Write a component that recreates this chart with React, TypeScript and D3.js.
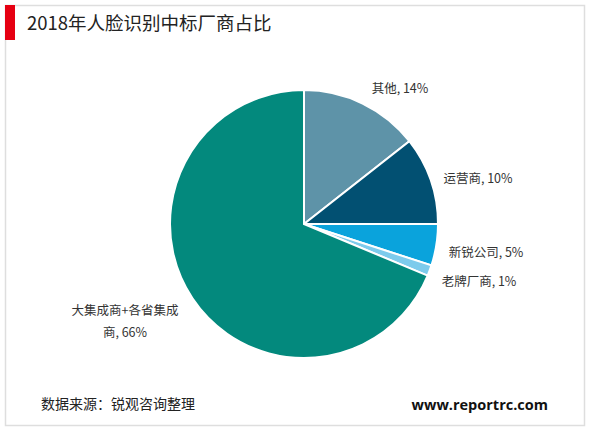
import React from "react";
import * as d3 from "d3";

const categories = ["其他", "运营商", "新锐公司", "老牌厂商", "大集成商+各省集成商"];
const values = [14.4, 10.6, 5.0, 1.3, 68.7];
const percentLabels = ["14%", "10%", "5%", "1%", "66%"];
const colors = ["#5e93a8", "#025072", "#0aa3dc", "#7dcbec", "#03897d"];
const labelLines = [
  ["其他, 14%"],
  ["运营商, 10%"],
  ["新锐公司, 5%"],
  ["老牌厂商, 1%"],
  ["大集成商+各省集成", "商, 66%"],
];
const labelPos: [number, number, string][] = [
  [400, 87, "middle"],
  [478, 177, "middle"],
  [486, 251, "middle"],
  [479, 280, "middle"],
  [125, 309, "middle"],
];

export default function App() {
  const cx = 304;
  const cy = 224;
  const r = 134;
  const pie = d3.pie<number>().sort(null).value((d) => d);
  const arcs = pie(values);
  const arc = d3.arc<d3.PieArcDatum<number>>().innerRadius(0).outerRadius(r);
  const font = "'Microsoft YaHei', 'Noto Sans CJK SC', sans-serif";
  return (
    <svg
      width={600}
      height={430}
      style={{ position: "absolute", left: 0, top: 0, background: "#fff" }}
    >
      <rect x={5.5} y={5.5} width={579} height={420} fill="#fff" stroke="#dedede" strokeWidth={1.5} />
      <rect x={5} y={5} width={10} height={35} fill="#e60012" />
      <text x={27} y={30} fontSize={18.5} fontFamily={font} fill="#222">
        2018年人脸识别中标厂商占比
      </text>
      <g transform={`translate(${cx},${cy})`}>
        {arcs.map((a, i) => (
          <path key={categories[i]} d={arc(a) || ""} fill={colors[i]} stroke="#fff" strokeWidth={2} />
        ))}
      </g>
      {labelLines.map((lines, i) => (
        <text
          key={i}
          x={labelPos[i][0]}
          y={labelPos[i][1]}
          textAnchor={labelPos[i][2] as any}
          fontSize={12.5}
          fontFamily={font}
          fill="#333"
          dominantBaseline="central"
        >
          {lines.map((l, j) => (
            <tspan key={j} x={labelPos[i][0]} dy={j === 0 ? 0 : 22}>
              {l}
            </tspan>
          ))}
        </text>
      ))}
      <text x={41} y={403} fontSize={14} fontFamily={font} fill="#222" dominantBaseline="central">
        数据来源：锐观咨询整理
      </text>
      <text
        x={548}
        y={404}
        textAnchor="end"
        fontSize={14.5}
        fontWeight="bold"
        fontFamily="'Open Sans', 'DejaVu Sans', sans-serif"
        fill="#111"
        dominantBaseline="central"
      >
        www.reportrc.com
      </text>
    </svg>
  );
}
